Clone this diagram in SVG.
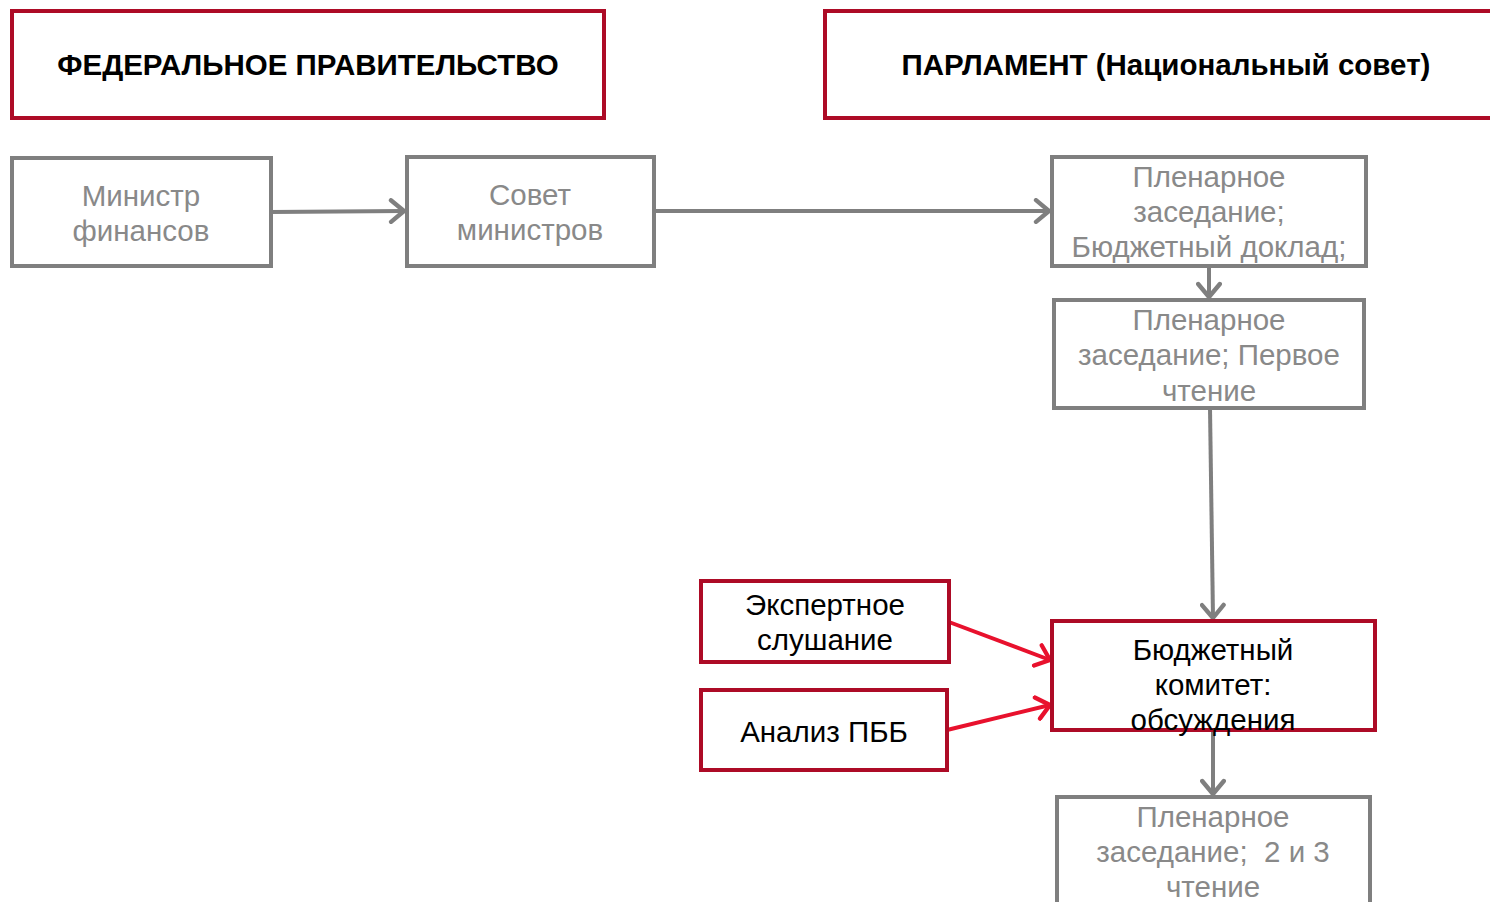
<svg xmlns="http://www.w3.org/2000/svg" width="1490" height="902" viewBox="0 0 1490 902">
<defs>
<style>
.red{fill:#fff;stroke:#AD0B26;stroke-width:4}
.gray{fill:#fff;stroke:#7F7F7F;stroke-width:4}
.t{font-family:"Liberation Sans",Arial,sans-serif;font-size:29.5px;text-anchor:middle;dominant-baseline:central}
.tg{fill:#898989}
.tb{fill:#000}
.hd{font-weight:bold;font-size:29.5px}
.cg{fill:none;stroke:#7F7F7F;stroke-width:4}
.cr{fill:none;stroke:#E8112D;stroke-width:4}
</style>
<marker id="ag" viewBox="0 0 12 12" refX="11" refY="6" markerWidth="6.5" markerHeight="6.5" markerUnits="strokeWidth" orient="auto">
<path d="M5,1 L11,6 L5,11" fill="none" stroke="#7F7F7F" stroke-width="2" stroke-linecap="round" stroke-linejoin="round"/>
</marker>
<marker id="ar" viewBox="0 0 12 12" refX="11" refY="6" markerWidth="6.5" markerHeight="6.5" markerUnits="strokeWidth" orient="auto">
<path d="M5,1 L11,6 L5,11" fill="none" stroke="#E8112D" stroke-width="2" stroke-linecap="round" stroke-linejoin="round"/>
</marker>
</defs>
<rect width="1490" height="902" fill="#fff"/>
<g id="connectors">
<path class="cg" d="M271,212 L404,211" marker-end="url(#ag)"/>
<path class="cg" d="M654,211 L1049,211" marker-end="url(#ag)"/>
<path class="cg" d="M1209,266 L1209,297" marker-end="url(#ag)"/>
<path class="cg" d="M1210,408 L1213,618" marker-end="url(#ag)"/>
<path class="cg" d="M1213,730 L1213,794" marker-end="url(#ag)"/>
<path class="cr" d="M949,622 L1050,660" marker-end="url(#ar)"/>
<path class="cr" d="M947,730 L1050,705" marker-end="url(#ar)"/>
</g>
<g id="fed">
<rect class="red" x="12" y="11" width="592" height="107"/>
<text class="t tb hd" x="308" y="64">ФЕДЕРАЛЬНОЕ ПРАВИТЕЛЬСТВО</text>
</g>
<g id="parl">
<rect class="red" x="825" y="11" width="700" height="107"/>
<text class="t tb hd" x="1166" y="64">ПАРЛАМЕНТ (Национальный совет)</text>
</g>
<g id="minfin">
<rect class="gray" x="12" y="158" width="259" height="108"/>
<text class="t tg" x="141" y="195">Министр</text>
<text class="t tg" x="141" y="230">финансов</text>
</g>
<g id="council">
<rect class="gray" x="407" y="157" width="247" height="109"/>
<text class="t tg" x="530" y="194">Совет</text>
<text class="t tg" x="530" y="229">министров</text>
</g>
<g id="plenary1">
<rect class="gray" x="1052" y="157" width="314" height="109"/>
<text class="t tg" x="1209" y="176">Пленарное</text>
<text class="t tg" x="1209" y="211">заседание;</text>
<text class="t tg" x="1209" y="246">Бюджетный доклад;</text>
</g>
<g id="plenary2">
<rect class="gray" x="1054" y="300" width="310" height="108"/>
<text class="t tg" x="1209" y="319">Пленарное</text>
<text class="t tg" x="1209" y="354">заседание; Первое</text>
<text class="t tg" x="1209" y="390">чтение</text>
</g>
<g id="expert">
<rect class="red" x="701" y="581" width="248" height="81"/>
<text class="t tb" x="825" y="604">Экспертное</text>
<text class="t tb" x="825" y="639">слушание</text>
</g>
<g id="analysis">
<rect class="red" x="701" y="690" width="246" height="80"/>
<text class="t tb" x="824" y="731">Анализ ПББ</text>
</g>
<g id="committee">
<rect class="red" x="1052" y="621" width="323" height="109"/>
<text class="t tb" x="1213" y="649">Бюджетный</text>
<text class="t tb" x="1213" y="684">комитет:</text>
<text class="t tb" x="1213" y="719">обсуждения</text>
</g>
<g id="plenary3">
<rect class="gray" x="1057" y="797" width="313" height="120"/>
<text class="t tg" x="1213" y="816">Пленарное</text>
<text class="t tg" x="1213" y="851" style="white-space:pre" xml:space="preserve">заседание;  2 и 3</text>
<text class="t tg" x="1213" y="886">чтение</text>
</g>
</svg>
